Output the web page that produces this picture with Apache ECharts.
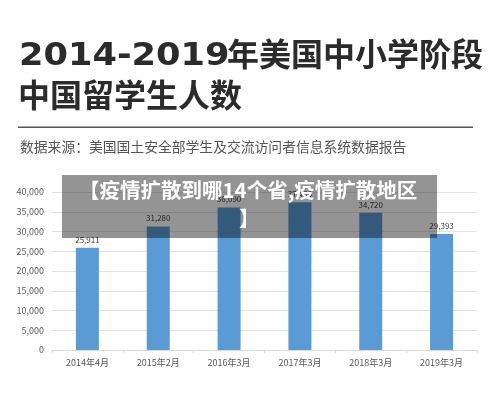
<!DOCTYPE html>
<html><head><meta charset="utf-8">
<script src="https://cdn.jsdelivr.net/npm/echarts@6/dist/echarts.min.js"></script>
<style>html,body{margin:0;padding:0;background:#fff}#c{width:500px;height:414px}</style>
</head><body><div id="c"></div>
<script>
const categories = ['2014年4月','2015年2月','2016年3月','2017年3月','2018年3月','2019年3月'];
const values = [25911, 31280, 36090, 37400, 34720, 29393];
const titleYears = '2014-2019';
const titleLine1 = '年美国中小学阶段';
const titleLine2 = '中国留学生人数';
const sourceText = '数据来源：美国国土安全部学生及交流访问者信息系统数据报告';
const bannerLine1 = '【疫情扩散到哪14个省,疫情扩散地区';
const bannerLine2 = '】';

const chart = echarts.init(document.getElementById('c'), null, {renderer:'canvas'});
const cjk = '"Noto Sans CJK SC", "Noto Sans", sans-serif';
chart.setOption({
  animation:false,
  backgroundColor:'#fff',
  grid:{left:52, right:23, top:192, bottom:64},
  xAxis:{type:'category', data:categories,
    axisLine:{lineStyle:{color:'#d9d9d9'}},
    axisTick:{show:true, length:3, lineStyle:{color:'#d9d9d9'}},
    axisLabel:{color:'#595959', fontSize:9, margin:8, fontFamily:cjk}},
  yAxis:{type:'value', min:0, max:40000, interval:5000,
    axisLine:{show:false}, axisTick:{show:false},
    splitLine:{lineStyle:{color:'#e3e3e3'}},
    axisLabel:{color:'#595959', fontSize:9, margin:8, fontFamily:cjk,
      formatter:v=>v.toLocaleString('en-US')}},
  series:[{type:'bar', data:values, barWidth:23,
    itemStyle:{color:'#5b9bd5'},
    label:{show:true, position:'top', color:'#404040', fontSize:8, distance:4, fontFamily:cjk,
      formatter:p=>p.value.toLocaleString('en-US')}}],
  graphic:[
    {type:'text', x:19, y:41, scaleX:1.1, style:{text:titleYears, font:'bold 32px "DejaVu Sans", sans-serif', fill:'#2b2b2b'}},
    {type:'text', x:227, y:38, style:{text:titleLine1, font:'bold 32px '+cjk, fill:'#2b2b2b'}},
    {type:'text', x:18, y:79, style:{text:titleLine2, font:'bold 32px '+cjk, fill:'#2b2b2b'}},
    {type:'rect', shape:{x:18, y:126.5, width:455, height:1.5}, style:{fill:'#555'}},
    {type:'text', x:20, y:140, style:{text:sourceText, font:'13.8px '+cjk, fill:'#555'}},
    {type:'rect', z:100, shape:{x:62, y:175, width:375, height:63}, style:{fill:'rgba(0,0,0,0.42)'}},
    {type:'text', z:101, x:79, y:180, style:{text:bannerLine1, font:'bold 20.5px '+cjk, fill:'#fff'}},
    {type:'text', z:101, x:239, y:208, style:{text:bannerLine2, font:'bold 20.5px '+cjk, fill:'#fff'}}
  ]
});
</script></body></html>
